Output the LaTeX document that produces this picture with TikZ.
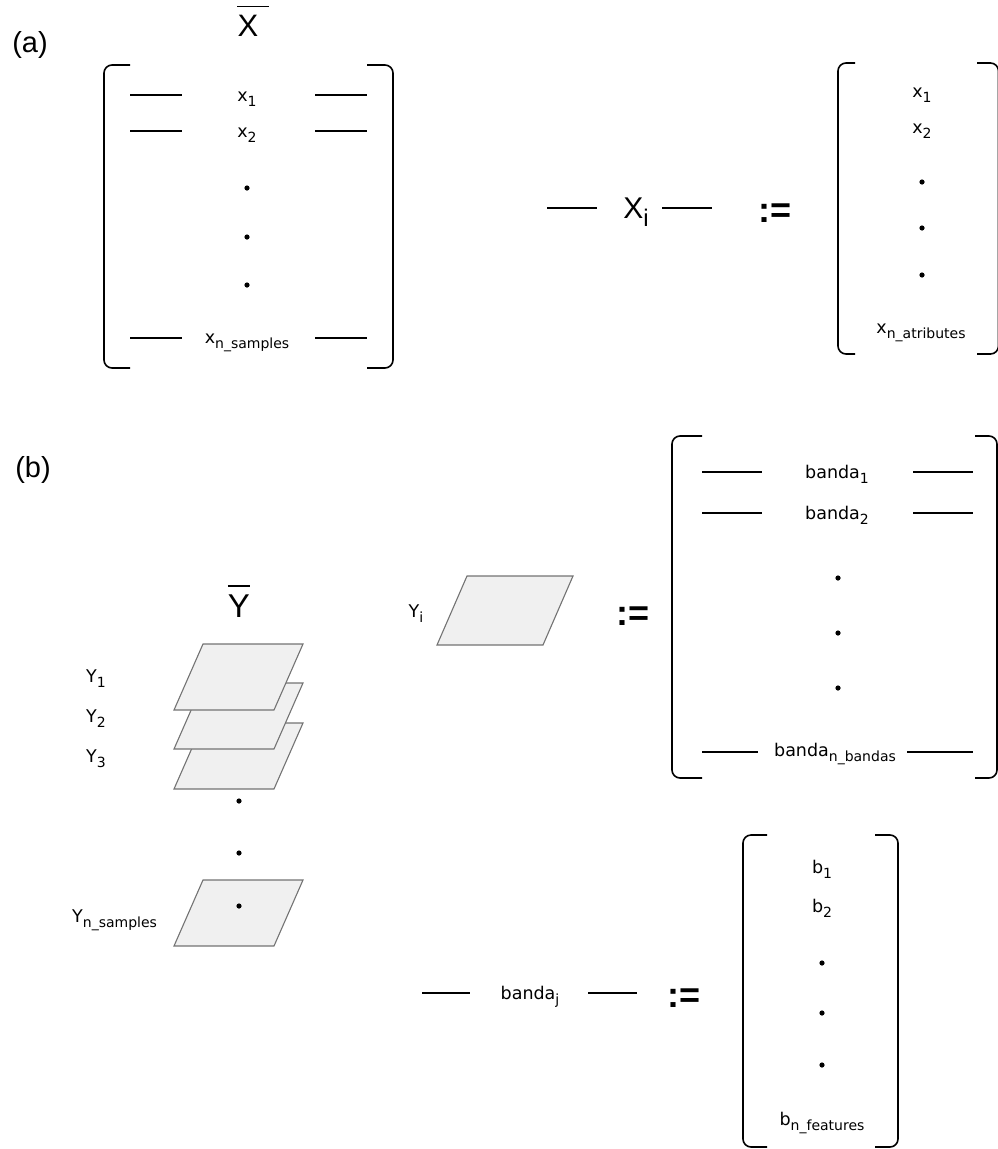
\documentclass[tikz,border=0pt]{standalone}
\usepackage{fontspec}
\setmainfont{DejaVu Sans}
\newfontfamily\arialf{Liberation Sans}
\usetikzlibrary{calc}
\newcommand\sbs[1]{\raisebox{-5pt}{\fontsize{14}{14}\selectfont #1}}
\newcommand\bigsub[1]{\raisebox{-8pt}{\fontsize{24}{24}\selectfont #1}}
\begin{document}
\begin{tikzpicture}[x=1pt,y=-1pt,
  lbl/.style={font=\fontsize{17.5}{19}\selectfont, inner sep=0pt, anchor=base},
  big/.style={font=\arialf\fontsize{30}{32}\selectfont, inner sep=0pt, anchor=base},
  assign/.style={font=\arialf\bfseries\fontsize{36}{38}\selectfont, inner sep=0pt, anchor=center},
  rowdash/.style={line width=2.1pt},
  brk/.style={line width=1.6pt, rounded corners=8pt},
  ovl/.style={line width=1.7pt},
  planestyle/.style={draw=black!55, fill=black!6, line width=1.1pt, line join=miter},
  plane/.pic={\draw[planestyle] (0,0) -- (100,0) -- (71,66) -- (-29,66) -- cycle;},
  dotst/.style={fill=black}
]
\useasboundingbox (0,0) rectangle (998,1149);

% ---------------- (a) ----------------
\node[big, font=\arialf\fontsize{29}{31}\selectfont] (la) at (30,52) {(a)};
\node[big, font=\arialf\fontsize{31}{33}\selectfont] (Xbar) at (248,36) {X};
\draw[ovl] ([yshift=8pt]Xbar.north west) -- ([yshift=8pt,xshift=10pt]Xbar.north east);

% left matrix
\draw[brk] (130,65) -- (104,65) -- (104,368) -- (130,368);
\draw[brk] (367,65) -- (393,65) -- (393,368) -- (367,368);
\node[lbl] (ax1) at (247,101) {x\sbs{1}};
\node[lbl] (ax2) at (247,137) {x\sbs{2}};
\node[lbl] (axn) at (247,343) {x\sbs{n\_samples}};
\draw[rowdash] (130,95) -- (182,95);  \draw[rowdash] (315,95) -- (367,95);
\draw[rowdash] (130,131) -- (182,131); \draw[rowdash] (315,131) -- (367,131);
\draw[rowdash] (130,338) -- (182,338); \draw[rowdash] (315,338) -- (367,338);
\fill[dotst] (247,188) circle (2.6);
\fill[dotst] (247,237) circle (2.6);
\fill[dotst] (247,285) circle (2.6);

% X_i :=
\node[big] (Xi) at (636,218) {X\bigsub{i}};
\draw[rowdash] (547,208) -- (597,208);
\draw[rowdash] (662,208) -- (712,208);
\node[assign] (as1) at (775,213) {:=};

% right matrix
\draw[brk] (855,63) -- (838,63) -- (838,354) -- (855,354);
\draw[brk] (977,63) -- (998.5,63) -- (998.5,354) -- (977,354);
\node[lbl] (rx1) at (922,97) {x\sbs{1}};
\node[lbl] (rx2) at (922,133) {x\sbs{2}};
\node[lbl] (rxn) at (921,333) {x\sbs{n\_atributes}};
\fill[dotst] (922,182) circle (2.6);
\fill[dotst] (922,228) circle (2.6);
\fill[dotst] (922,275) circle (2.6);

% ---------------- (b) ----------------
\node[big, font=\arialf\fontsize{29}{31}\selectfont] (lb) at (33,477) {(b)};
\node[big, font=\arialf\fontsize{33}{35}\selectfont] (Ybar) at (239,617) {Y};
\draw[ovl] ([yshift=8pt]Ybar.north west) -- ([yshift=8pt]Ybar.north east);

% stack of planes
\pic at (203,723) {plane};
\pic at (203,683) {plane};
\pic at (203,644) {plane};
\node[lbl] (y1) at (96,682) {Y\sbs{1}};
\node[lbl] (y2) at (96,722) {Y\sbs{2}};
\node[lbl] (y3) at (96,762) {Y\sbs{3}};
\fill[dotst] (239,801) circle (2.6);
\fill[dotst] (239,853) circle (2.6);
\pic at (203,880) {plane};
\fill[dotst] (239,906) circle (2.6);
\node[lbl, anchor=base west] (yn) at (72,922) {Y\sbs{n\_samples}};

% Y_i :=
\draw[planestyle] (467,576) -- (573,576) -- (543,645) -- (437,645) -- cycle;
\node[lbl] (yi) at (416,617) {Y\sbs{i}};
\node[assign] (as2) at (633,616) {:=};

% upper matrix (b)
\draw[brk] (702,436) -- (672,436) -- (672,778) -- (702,778);
\draw[brk] (975,436) -- (997,436) -- (997,778) -- (975,778);
\node[lbl] (bd1) at (837,478) {banda\sbs{1}};
\node[lbl] (bd2) at (837,519) {banda\sbs{2}};
\node[lbl] (bdn) at (835,756) {banda\sbs{n\_bandas}};
\draw[rowdash] (702,472) -- (762,472); \draw[rowdash] (913,472) -- (973,472);
\draw[rowdash] (702,513) -- (762,513); \draw[rowdash] (913,513) -- (973,513);
\draw[rowdash] (702,752) -- (758,752); \draw[rowdash] (907,752) -- (973,752);
\fill[dotst] (838,578) circle (2.6);
\fill[dotst] (838,633) circle (2.6);
\fill[dotst] (838,688) circle (2.6);

% banda_j :=
\node[lbl] (bj) at (530,999) {banda\sbs{j}};
\draw[rowdash] (422,993) -- (470,993);
\draw[rowdash] (588,993) -- (637,993);
\node[assign] (as3) at (684,998) {:=};

% lower matrix
\draw[brk] (767,835) -- (743,835) -- (743,1147) -- (767,1147);
\draw[brk] (875,835) -- (898,835) -- (898,1147) -- (875,1147);
\node[lbl] (b1) at (822,873) {b\sbs{1}};
\node[lbl] (b2) at (822,912) {b\sbs{2}};
\node[lbl] (bn) at (822,1125) {b\sbs{n\_features}};
\fill[dotst] (822,963) circle (2.6);
\fill[dotst] (822,1013) circle (2.6);
\fill[dotst] (822,1065) circle (2.6);
\end{tikzpicture}
\end{document}
